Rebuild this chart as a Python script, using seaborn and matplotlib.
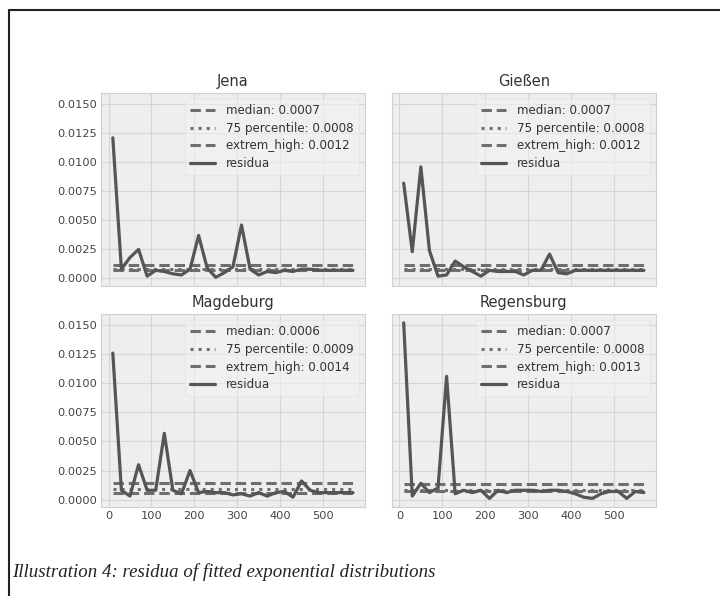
import matplotlib
matplotlib.use("Agg")
import matplotlib.pyplot as plt
import pandas as pd
import seaborn as sns
from matplotlib.lines import Line2D

# Binned distance (x) at which each residual was evaluated
distance = [10, 30, 50, 70, 90, 110, 130, 150, 170, 190, 210, 230, 250, 270, 290,
            310, 330, 350, 370, 390, 410, 430, 450, 470, 490, 510, 530, 550, 570]

cities = ["Jena", "Gießen", "Magdeburg", "Regensburg"]

res_jena = [0.0121, 0.0008, 0.0018, 0.0025, 0.0002, 0.0007, 0.0006, 0.0004, 0.0003,
            0.0008, 0.0037, 0.0009, 0.0001, 0.0005, 0.0010, 0.0046, 0.0008, 0.0003,
            0.0006, 0.0005, 0.0007, 0.0006, 0.0008, 0.0008, 0.0007, 0.0007, 0.0007,
            0.0007, 0.0007]
res_giessen = [0.0082, 0.0023, 0.0096, 0.0024, 0.0002, 0.0003, 0.0015, 0.0010, 0.0006,
               0.0002, 0.0007, 0.0006, 0.0006, 0.0006, 0.0003, 0.0007, 0.0007, 0.0021,
               0.0005, 0.0004, 0.0007, 0.0007, 0.0007, 0.0007, 0.0007, 0.0007, 0.0007,
               0.0007, 0.0007]
res_magdeburg = [0.0126, 0.0008, 0.0003, 0.0030, 0.0008, 0.0008, 0.0057, 0.0008, 0.0005,
                 0.0025, 0.0006, 0.0007, 0.0006, 0.0006, 0.0004, 0.0005, 0.0003, 0.0006,
                 0.0003, 0.0006, 0.0007, 0.0002, 0.0016, 0.0008, 0.0006, 0.0006, 0.0006,
                 0.0006, 0.0006]
res_regensburg = [0.0152, 0.0003, 0.0014, 0.0006, 0.0010, 0.0106, 0.0005, 0.0008, 0.0006,
                  0.0008, 0.0001, 0.0008, 0.0006, 0.0008, 0.0008, 0.0008, 0.0007, 0.0008,
                  0.0008, 0.0007, 0.0005, 0.0002, 0.0001, 0.0005, 0.0007, 0.0007, 0.0001,
                  0.0007, 0.0006]

median = [0.0007, 0.0007, 0.0006, 0.0007]
percentile_75 = [0.0008, 0.0008, 0.0009, 0.0008]
extrem_high = [0.0012, 0.0012, 0.0014, 0.0013]

xticks = [0, 100, 200, 300, 400, 500]
yticks = [0.0, 0.0025, 0.0050, 0.0075, 0.0100, 0.0125, 0.0150]

residua = [res_jena, res_giessen, res_magdeburg, res_regensburg]
frames = [pd.DataFrame({"city": c, "distance": distance, "residua": r})
          for c, r in zip(cities, residua)]
df = pd.concat(frames, ignore_index=True)

sns.set_theme(style="whitegrid")
plt.rcParams.update({
    "font.family": ["DejaVu Sans"],
    "axes.facecolor": "#eeeeee",
    "axes.edgecolor": "#d0d0d0",
    "axes.linewidth": 0.8,
    "grid.color": "#d6d6d6",
    "grid.linewidth": 0.8,
    "xtick.direction": "in",
    "ytick.direction": "in",
    "xtick.major.size": 3,
    "ytick.major.size": 3,
    "xtick.color": "#444444",
    "ytick.color": "#444444",
    "text.color": "#333333",
})

fig = plt.figure(figsize=(7.2, 5.96), dpi=100)

lefts = [0.140, 0.544]
bottoms = [0.520, 0.149]
w, h = 0.367, 0.324

line_col = "#555555"
ref_col = "#6e6e6e"
dash = (3.4, 1.6)

axes = []
for i, city in enumerate(cities):
    row, col = divmod(i, 2)
    share = axes[0] if axes else None
    ax = fig.add_axes([lefts[col], bottoms[row], w, h], sharex=share, sharey=share)
    axes.append(ax)
    sub = df[df["city"] == city]
    x0, x1 = sub["distance"].min(), sub["distance"].max()

    ax.plot([x0, x1], [median[i]] * 2, ls="--", dashes=dash, color=ref_col, lw=2.2,
            label=f"median: {median[i]:.4f}")
    ax.plot([x0, x1], [percentile_75[i]] * 2, ls=":", color=ref_col, lw=2.2,
            label=f"75 percentile: {percentile_75[i]:.4f}")
    ax.plot([x0, x1], [extrem_high[i]] * 2, ls="--", dashes=dash, color=ref_col, lw=2.2,
            label=f"extrem_high: {extrem_high[i]:.4f}")
    sns.lineplot(data=sub, x="distance", y="residua", ax=ax, color=line_col, lw=2.3,
                 label="residua")

    ax.set_title(city, fontsize=10.5, color="#333333", pad=5)
    ax.set_xlabel("")
    ax.set_ylabel("")
    ax.grid(True)
    for s in ax.spines.values():
        s.set_color("#d0d0d0")
    leg = ax.legend(loc="upper right", fontsize=8.6, frameon=True, framealpha=0.6,
                    facecolor="#f2f2f2", edgecolor="#e2e2e2", handlelength=2.1,
                    labelspacing=0.38, borderpad=0.45, handletextpad=0.9,
                    borderaxespad=0.5)
    leg.get_frame().set_linewidth(0.8)

    ax.set_xticks(xticks)
    ax.set_yticks(yticks)
    ax.tick_params(labelsize=8.2, pad=3)
    if row == 0:
        ax.tick_params(labelbottom=False)
    else:
        ax.set_xticklabels([str(t) for t in xticks])
    if col == 1:
        ax.tick_params(labelleft=False)
    else:
        ax.set_yticklabels([f"{t:.4f}" for t in yticks])

# page frame around the illustration
fig.add_artist(Line2D([9 / 720, 1.0], [1 - 10 / 596, 1 - 10 / 596], color="#222222", lw=1.5,
                      transform=fig.transFigure))
fig.add_artist(Line2D([9 / 720, 9 / 720], [0.0, 1 - 10 / 596], color="#222222", lw=1.5,
                      transform=fig.transFigure))

fig.text(12 / 720, 1 - 577 / 596, "Illustration 4: residua of fitted exponential distributions",
         fontsize=13.6, fontstyle="italic", family=["Liberation Serif", "DejaVu Serif"],
         color="#222222", ha="left", va="baseline")

fig.savefig("out.png", dpi=100, facecolor="white")
